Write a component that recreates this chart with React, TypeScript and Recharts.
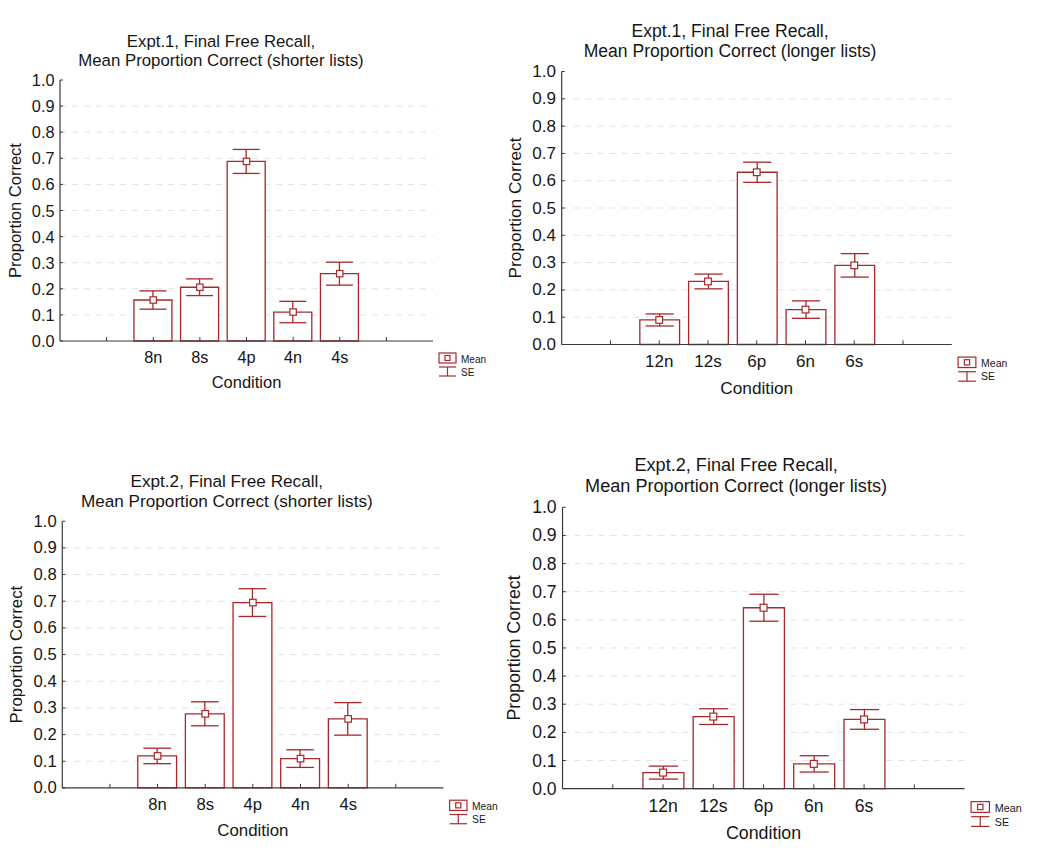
import React from 'react'
import { ComposedChart, Bar, ErrorBar, Scatter, XAxis, YAxis, CartesianGrid, Label } from 'recharts'

const RED = '#a8282b'
const INK = '#161616'
const AXIS = '#3a3a3a'
const FONT = '"Liberation Sans", Arial, Helvetica, sans-serif'

// condition labels (x axis)
const shortConds = ['8n', '8s', '4p', '4n', '4s']
const longConds = ['12n', '12s', '6p', '6n', '6s']

// Expt.1
const e1ShortMean = [0.157, 0.206, 0.688, 0.111, 0.258]
const e1ShortSE = [0.035, 0.032, 0.046, 0.041, 0.044]
const e1LongMean = [0.09, 0.231, 0.631, 0.128, 0.29]
const e1LongSE = [0.022, 0.027, 0.037, 0.032, 0.043]

// Expt.2
const e2ShortMean = [0.12, 0.278, 0.695, 0.11, 0.259]
const e2ShortSE = [0.029, 0.045, 0.052, 0.033, 0.061]
const e2LongMean = [0.057, 0.256, 0.643, 0.088, 0.246]
const e2LongSE = [0.023, 0.028, 0.048, 0.029, 0.035]

const yTicks = [0, 0.1, 0.2, 0.3, 0.4, 0.5, 0.6, 0.7, 0.8, 0.9, 1.0]
const gridValues = [0.1, 0.2, 0.3, 0.4, 0.5, 0.6, 0.7, 0.8, 0.9]

// base geometry (scale 1)
const PLOT_W = 373
const PLOT_H = 261
const LEFT = 58
const TOP = 55
const BOTTOM = 60
const CHART_W = 490
const X_AXIS_H = 47

interface PanelProps {
  title: string[]
  conds: string[]
  means: number[]
  ses: number[]
  x0: number
  yTop: number
  s: number
}

function Panel({ title, conds, means, ses, x0, yTop, s }: PanelProps) {
  const rows = [
    { cond: '', mean: null as number | null, se: null as number | null },
    ...conds.map((c, i) => ({ cond: c, mean: means[i], se: ses[i] })),
    { cond: ' ', mean: null as number | null, se: null as number | null },
  ]
  const w = CHART_W * s
  const h = (TOP + PLOT_H + BOTTOM) * s
  const band = (PLOT_W * s) / 8
  const x0L = LEFT * s
  const yBotL = (TOP + PLOT_H) * s

  const xTick = (p: any) => (
    <g>
      <line x1={p.x} y1={p.y} x2={p.x} y2={p.y - 4 * s} stroke={AXIS} strokeWidth={1} />
      <text x={p.x} y={p.y + 16 * s} textAnchor="middle" dominantBaseline="central"
        fontSize={16.3 * s} fill={INK} fontFamily={FONT}>{p.payload.value}</text>
    </g>
  )
  const yTick = (p: any) => (
    <g>
      <line x1={p.x} y1={p.y} x2={p.x + 3 * s} y2={p.y} stroke={AXIS} strokeWidth={1} />
      <text x={p.x - 5.5 * s} y={p.y} textAnchor="end" dominantBaseline="central"
        fontSize={16.3 * s} fill={INK} fontFamily={FONT}>{Number(p.payload.value).toFixed(1)}</text>
    </g>
  )
  const meanMark = (p: any) => {
    if (p.payload == null || p.payload.mean == null || p.cx == null || p.cy == null) return <g />
    const r = 3.2 * s
    return <rect x={p.cx - r} y={p.cy - r} width={2 * r} height={2 * r} fill="#fff" stroke={RED} strokeWidth={1.2} />
  }

  const bx = x0L + 379 * s
  const bw = 17 * s

  return (
    <div style={{ position: 'absolute', left: x0 - LEFT * s, top: yTop - TOP * s, width: w, height: h }}>
      <ComposedChart width={w} height={h} data={rows}
        margin={{ top: TOP * s, right: w - LEFT * s - PLOT_W * s, bottom: BOTTOM * s - X_AXIS_H * s, left: 0 }}>
        <CartesianGrid vertical={false} horizontalValues={gridValues} stroke="#e2e2e2" strokeDasharray="6 6" />
        <XAxis dataKey="cond" interval={0} padding={{ left: band / 2, right: band / 2 }}
          height={X_AXIS_H * s} tickSize={0} tickMargin={0} tickLine={false}
          axisLine={{ stroke: AXIS, strokeWidth: 1.2 }} tick={xTick}>
          <Label content={(lp: any) => {
            const vb = lp.viewBox
            return (
              <text x={vb.x + vb.width / 2} y={vb.y + 47 * s} textAnchor="middle"
                fontSize={16.5 * s} fill={INK} fontFamily={FONT}>Condition</text>
            )
          }} />
        </XAxis>
        <YAxis domain={[0, 1]} ticks={yTicks} width={LEFT * s} tickSize={0} tickMargin={0} tickLine={false}
          axisLine={{ stroke: AXIS, strokeWidth: 1.2 }} tick={yTick} interval={0}>
          <Label content={(lp: any) => {
            const vb = lp.viewBox
            const cx = vb.x + vb.width - 45 * s
            const cy = vb.y + vb.height / 2
            return (
              <text x={cx} y={cy} transform={`rotate(-90 ${cx} ${cy})`} textAnchor="middle"
                dominantBaseline="central" fontSize={16.5 * s} fill={INK} fontFamily={FONT}>
                Proportion Correct
              </text>
            )
          }} />
        </YAxis>
        <Bar dataKey="mean" barSize={38 * s} fill="#fff" stroke={RED} strokeWidth={1.3} isAnimationActive={false}>
          <ErrorBar dataKey="se" width={13.5 * s} stroke={RED} strokeWidth={1.3} direction="y" isAnimationActive={false} />
        </Bar>
        <Scatter dataKey="mean" shape={meanMark} isAnimationActive={false} />
      </ComposedChart>
      <svg width={w} height={h} style={{ position: 'absolute', left: 0, top: 0, pointerEvents: 'none' }}>
        <g fontFamily={FONT} fill={INK}>
          <text x={x0L + 161 * s} y={TOP * s - 39 * s} textAnchor="middle" dominantBaseline="central" fontSize={16.8 * s}>{title[0]}</text>
          <text x={x0L + 161 * s} y={TOP * s - 20 * s} textAnchor="middle" dominantBaseline="central" fontSize={16.8 * s}>{title[1]}</text>
        </g>
        <g stroke={RED} strokeWidth={1.2} fill="none">
          <rect x={bx} y={yBotL + 12 * s} width={bw} height={10 * s} />
          <rect x={bx + bw / 2 - 2.5 * s} y={yBotL + 17 * s - 2.5 * s} width={5 * s} height={5 * s} />
          <line x1={bx} y1={yBotL + 26 * s} x2={bx + bw} y2={yBotL + 26 * s} />
          <line x1={bx + bw / 2} y1={yBotL + 26 * s} x2={bx + bw / 2} y2={yBotL + 35 * s} />
          <line x1={bx} y1={yBotL + 35 * s} x2={bx + bw} y2={yBotL + 35 * s} />
        </g>
        <g fontFamily={FONT} fill={INK} fontSize={10 * s}>
          <text x={x0L + 401 * s} y={yBotL + 18 * s} dominantBaseline="central">Mean</text>
          <text x={x0L + 401 * s} y={yBotL + 31 * s} dominantBaseline="central">SE</text>
        </g>
      </svg>
    </div>
  )
}

export default function App() {
  return (
    <div style={{ position: 'absolute', left: 0, top: 0, width: 1050, height: 850, overflow: 'hidden', background: '#fff' }}>
      <Panel title={['Expt.1, Final Free Recall,', 'Mean Proportion Correct (shorter lists)']}
        conds={shortConds} means={e1ShortMean} ses={e1ShortSE} x0={60} yTop={80} s={1} />
      <Panel title={['Expt.1, Final Free Recall,', 'Mean Proportion Correct (longer lists)']}
        conds={longConds} means={e1LongMean} ses={e1LongSE} x0={562} yTop={72} s={1.046} />
      <Panel title={['Expt.2, Final Free Recall,', 'Mean Proportion Correct (shorter lists)']}
        conds={shortConds} means={e2ShortMean} ses={e2ShortSE} x0={62} yTop={521} s={1.022} />
      <Panel title={['Expt.2, Final Free Recall,', 'Mean Proportion Correct (longer lists)']}
        conds={longConds} means={e2LongMean} ses={e2LongSE} x0={563} yTop={507} s={1.078} />
    </div>
  )
}
